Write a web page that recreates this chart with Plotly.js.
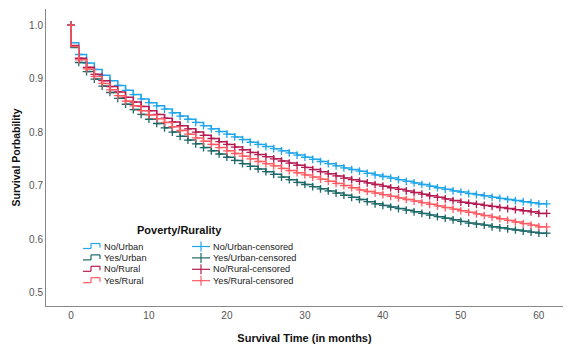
<!DOCTYPE html>
<html>
<head>
<meta charset="utf-8">
<script src="https://cdn.plot.ly/plotly-3.0.1.min.js"></script>
<style>html,body{margin:0;padding:0;background:#fff;}#chart{width:569px;height:345px;}</style>
</head>
<body>
<div id="chart"></div>
<script>
// ---- data ----
const months = [0,1,2,3,4,5,6,7,8,9,
  10,11,12,13,14,15,16,17,18,19,
  20,21,22,23,24,25,26,27,28,29,
  30,31,32,33,34,35,36,37,38,39,
  40,41,42,43,44,45,46,47,48,49,
  50,51,52,53,54,55,56,57,58,59,
  60,61];
const startSurvival = 1.0;
const seriesNames = ['No/Urban','Yes/Urban','No/Rural','Yes/Rural'];
const censoredNames = ['No/Urban-censored','Yes/Urban-censored','No/Rural-censored','Yes/Rural-censored'];
const noUrban = [0.967,0.945,0.929,0.917,0.906,0.896,0.887,0.878,0.870,0.862,
  0.855,0.849,0.843,0.836,0.830,0.824,0.818,0.812,0.806,0.801,
  0.796,0.791,0.786,0.781,0.777,0.773,0.769,0.765,0.761,0.757,
  0.753,0.749,0.745,0.741,0.737,0.733,0.730,0.727,0.723,0.720,
  0.717,0.714,0.711,0.708,0.705,0.702,0.699,0.696,0.693,0.690,
  0.688,0.685,0.683,0.681,0.678,0.676,0.674,0.672,0.670,0.668,
  0.666,0.666];
const yesUrban = [0.958,0.930,0.913,0.899,0.886,0.874,0.863,0.852,0.842,0.833,
  0.824,0.816,0.808,0.800,0.792,0.785,0.778,0.771,0.765,0.759,
  0.753,0.747,0.741,0.736,0.731,0.726,0.721,0.716,0.711,0.706,
  0.702,0.698,0.694,0.690,0.686,0.682,0.678,0.674,0.670,0.666,
  0.663,0.660,0.657,0.654,0.651,0.648,0.645,0.642,0.639,0.636,
  0.633,0.630,0.628,0.626,0.623,0.621,0.619,0.617,0.615,0.613,
  0.611,0.611];
const noRural = [0.962,0.938,0.921,0.908,0.896,0.885,0.875,0.865,0.856,0.848,
  0.840,0.833,0.826,0.819,0.812,0.806,0.800,0.794,0.788,0.782,
  0.777,0.772,0.767,0.762,0.758,0.754,0.750,0.746,0.742,0.738,
  0.734,0.730,0.726,0.722,0.718,0.714,0.711,0.708,0.705,0.702,
  0.699,0.696,0.693,0.690,0.687,0.684,0.681,0.678,0.675,0.672,
  0.669,0.667,0.665,0.663,0.661,0.659,0.657,0.655,0.653,0.651,
  0.648,0.648];
const yesRural = [0.960,0.935,0.918,0.904,0.891,0.879,0.868,0.858,0.849,0.840,
  0.832,0.825,0.818,0.810,0.803,0.796,0.789,0.783,0.777,0.771,
  0.765,0.760,0.755,0.750,0.745,0.741,0.737,0.732,0.728,0.724,
  0.720,0.716,0.712,0.708,0.704,0.700,0.696,0.692,0.689,0.686,
  0.683,0.680,0.677,0.674,0.671,0.668,0.665,0.662,0.659,0.656,
  0.653,0.650,0.647,0.644,0.641,0.638,0.635,0.632,0.629,0.626,
  0.623,0.623];
const xTicks = [0,10,20,30,40,50,60];
const yTicks = [0.5,0.6,0.7,0.8,0.9,1.0];
const yTickLabels = ['0.5','0.6','0.7','0.8','0.9','1.0'];

// ---- styles ----
const colors = ['#22a6ea','#1d6868','#b51b52','#ff5a62'];
const allSeries = [noUrban, yesUrban, noRural, yesRural];
const FONT = '"Liberation Sans", Arial, sans-serif';

const traces = [];
allSeries.forEach((vals, i) => {
  traces.push({
    type:'scatter', mode:'lines', name: seriesNames[i],
    x: [0].concat(months), y: [startSurvival].concat(vals),
    line:{shape:'hv', color: colors[i], width:1.5},
    showlegend:false, hoverinfo:'skip'
  });
  traces.push({
    type:'scatter', mode:'markers', name: censoredNames[i],
    x: [0].concat(months.slice(1)), y: [startSurvival].concat(vals.slice(1)),
    marker:{symbol:'cross-thin', size:5.5, line:{color: colors[i], width:1.3}, color: colors[i]},
    showlegend:false, hoverinfo:'skip'
  });
});

// ---- manual legend (pixel geometry -> paper) ----
const PL=46, PR=563, PT=9, PB=306;
const px = x => (x-PL)/(PR-PL);
const py = y => (PB-y)/(PB-PT);
const shapes = [];
const annotations = [];
annotations.push({xref:'paper', yref:'paper', x:px(179), y:py(230), text:'<b>Poverty/Rurality</b>',
  showarrow:false, xanchor:'center', yanchor:'middle', font:{family:FONT, size:11, color:'#111'}});
seriesNames.forEach((nm, i) => {
  const yc = 246.5 + i*11.4;
  const c = colors[i];
  const seg = (x0,y0,x1,y1) => shapes.push({type:'line', xref:'paper', yref:'paper',
    x0:px(x0), y0:py(y0), x1:px(x1), y1:py(y1), line:{color:c, width:1.2}});
  // step icon
  seg(83, yc+2, 91, yc+2); seg(91, yc+2, 91, yc-3); seg(91, yc-3, 100, yc-3); seg(100, yc-3, 100, yc+1);
  annotations.push({xref:'paper', yref:'paper', x:px(101.5), y:py(yc), text:nm, showarrow:false,
    xanchor:'left', yanchor:'middle', font:{family:FONT, size:9.2, color:'#222'}});
  // censored icon
  seg(192, yc, 210, yc); seg(201, yc-5, 201, yc+5);
  annotations.push({xref:'paper', yref:'paper', x:px(211), y:py(yc), text:censoredNames[i], showarrow:false,
    xanchor:'left', yanchor:'middle', font:{family:FONT, size:9.2, color:'#222'}});
});

const layout = {
  width:569, height:345,
  margin:{l:PL, r:569-PR, t:PT, b:345-PB},
  paper_bgcolor:'#fff', plot_bgcolor:'#fff',
  font:{family:FONT, size:10, color:'#444'},
  showlegend:false,
  xaxis:{range:[-3.2,63.1], tickvals:xTicks, showgrid:false, zeroline:false,
    showline:true, linecolor:'#888', linewidth:1, ticks:'', automargin:false,
    tickfont:{family:FONT, size:10, color:'#555'},
    title:{text:'<b>Survival Time (in months)</b>', font:{family:FONT, size:11, color:'#111'}, standoff:14}},
  yaxis:{range:[0.475,1.030], tickvals:yTicks, ticktext:yTickLabels, showgrid:false, zeroline:false,
    showline:true, linecolor:'#888', linewidth:1, ticks:'', automargin:false,
    tickfont:{family:FONT, size:10, color:'#555'},
    title:{text:'<b>Survival Porbability</b>', font:{family:FONT, size:10.5, color:'#111'}, standoff:6}},
  shapes: shapes,
  annotations: annotations
};
Plotly.newPlot('chart', traces, layout, {displayModeBar:false, staticPlot:true});
</script>
</body>
</html>
